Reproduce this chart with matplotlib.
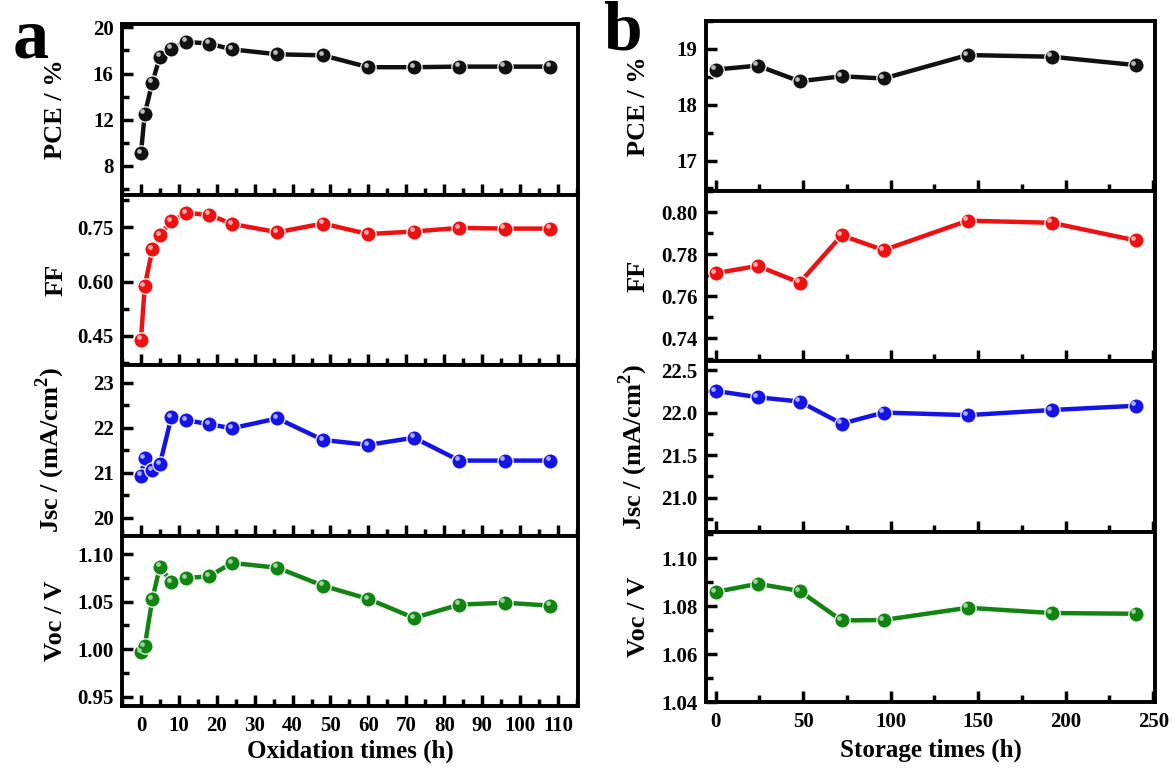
import numpy as np
import matplotlib.pyplot as plt
from matplotlib.ticker import MultipleLocator
from matplotlib.transforms import ScaledTranslation

plt.rcParams['font.family'] = ['Liberation Serif', 'DejaVu Serif']
plt.rcParams['font.weight'] = 'bold'
plt.rcParams['mathtext.fontset'] = 'custom'
plt.rcParams['mathtext.rm'] = 'Liberation Serif:bold'

# (a) oxidation time series
t_ox = [0, 1, 3, 5, 8, 12, 18, 24, 36, 48, 60, 72, 84, 96, 108]
pce_ox = [9.08, 12.5, 15.2, 17.47, 18.17, 18.75, 18.6, 18.1, 17.67, 17.58, 16.55, 16.55, 16.6, 16.6, 16.6]
ff_ox = [0.440, 0.588, 0.689, 0.727, 0.767, 0.789, 0.784, 0.759, 0.736, 0.760, 0.731, 0.738, 0.748, 0.746, 0.746]
jsc_ox = [20.93, 21.33, 21.06, 21.19, 22.23, 22.17, 22.08, 21.99, 22.21, 21.73, 21.62, 21.78, 21.27, 21.27, 21.27]
voc_ox = [0.997, 1.003, 1.053, 1.087, 1.071, 1.075, 1.077, 1.091, 1.086, 1.067, 1.053, 1.033, 1.047, 1.049, 1.046]

# (b) storage time series
t_st = [0, 24, 48, 72, 96, 144, 192, 240]
pce_st = [18.63, 18.70, 18.42, 18.51, 18.47, 18.89, 18.86, 18.71]
ff_st = [0.771, 0.7745, 0.7665, 0.789, 0.782, 0.796, 0.795, 0.7866]
jsc_st = [22.255, 22.18, 22.13, 21.87, 22.0, 21.97, 22.03, 22.08]
voc_st = [1.0859, 1.0893, 1.0863, 1.0740, 1.0742, 1.0793, 1.0771, 1.0768]

colors = ['#111111', '#ee1111', '#1414e6', '#128412']
lights = ['#bbbbbb', '#ffaaaa', '#aaaaff', '#9ad89a']
ylabels = ['PCE / %', 'FF', 'Jsc / (mA/cm$^2$)', 'Voc / V']

W, H = 1173, 769
fig = plt.figure(figsize=(W / 100, H / 100), dpi=100)


def stack(left, right, top, bottom):
    h = (bottom - top) / 4
    axes = []
    for i in range(4):
        y0 = 1 - (top + (i + 1) * h) / H
        ax = fig.add_axes([left / W, y0, (right - left) / W, h / H])
        axes.append(ax)
    return axes


def draw(ax, x, y, k):
    ax.plot(x, y, '-', color=colors[k], lw=3.2, zorder=2)
    ax.plot(x, y, 'o', ms=11, mfc=colors[k], mec='white', mew=0.9, zorder=3)
    hl = ax.transData + ScaledTranslation(-1.7 / 72, 1.7 / 72, fig.dpi_scale_trans)
    ax.plot(x, y, 'o', ms=3.4, mfc=lights[k], mec='none', transform=hl, zorder=4)


def style(ax, last):
    for s in ax.spines.values():
        s.set_linewidth(2.8)
    ax.tick_params(which='both', direction='in', top=False, right=False, width=2.5,
                   labelsize=15, pad=6)
    ax.tick_params(which='major', length=8)
    ax.tick_params(which='minor', length=5)
    ax.tick_params(axis='x', pad=7)
    if not last:
        ax.tick_params(axis='x', labelbottom=False)


# panel a
axa = stack(122, 578, 24, 706)
data_a = [pce_ox, ff_ox, jsc_ox, voc_ox]
ylims_a = [(5.5, 20.3), (0.37, 0.84), (19.6, 23.4), (0.94, 1.12)]
ymaj_a = [4, 0.15, 1, 0.05]
for k, ax in enumerate(axa):
    draw(ax, t_ox, data_a[k], k)
    ax.set_xlim(-5, 115.3)
    ax.set_ylim(*ylims_a[k])
    ax.xaxis.set_major_locator(MultipleLocator(10))
    ax.xaxis.set_minor_locator(MultipleLocator(5))
    ax.yaxis.set_major_locator(MultipleLocator(ymaj_a[k]))
    ax.yaxis.set_minor_locator(MultipleLocator(ymaj_a[k] / 2))
    style(ax, k == 3)
    ax.set_ylabel(ylabels[k], fontsize=19, fontweight='bold')
for ax in axa:
    ax.yaxis.set_label_coords(-0.12, 0.5)
axa[0].set_yticks([8, 12, 16, 20])
axa[1].set_yticks([0.45, 0.60, 0.75])
axa[1].yaxis.set_major_formatter(plt.FormatStrFormatter('%.2f'))
axa[2].set_yticks([20, 21, 22, 23])
axa[3].set_yticks([0.95, 1.00, 1.05, 1.10])
axa[3].yaxis.set_major_formatter(plt.FormatStrFormatter('%.2f'))
axa[3].set_xlabel('Oxidation times (h)', fontsize=18, fontweight='bold', labelpad=3)

# panel b
axb = stack(706, 1155, 21, 702)
data_b = [pce_st, ff_st, jsc_st, voc_st]
ylims_b = [(16.45, 19.5), (0.729, 0.81), (20.6, 22.6), (1.04, 1.111)]
ymaj_b = [1, 0.02, 0.5, 0.02]
fmt_b = ['%d', '%.2f', '%.1f', '%.2f']
for k, ax in enumerate(axb):
    draw(ax, t_st, data_b[k], k)
    ax.set_xlim(-5.5, 251)
    ax.set_ylim(*ylims_b[k])
    ax.xaxis.set_major_locator(MultipleLocator(50))
    ax.xaxis.set_minor_locator(MultipleLocator(25))
    ax.yaxis.set_major_locator(MultipleLocator(ymaj_b[k]))
    ax.yaxis.set_minor_locator(MultipleLocator(ymaj_b[k] / 2))
    ax.yaxis.set_major_formatter(plt.FormatStrFormatter(fmt_b[k]))
    style(ax, k == 3)
    ax.set_ylabel(ylabels[k], fontsize=19, fontweight='bold')
for ax in axb:
    ax.yaxis.set_label_coords(-0.125, 0.5)
axb[3].set_xlabel('Storage times (h)', fontsize=18, fontweight='bold', labelpad=5)

fig.text(31 / W, 1 - 40 / H, 'a', fontsize=52, fontweight='bold', ha='center', va='center')
fig.text(622 / W, 1 - 33 / H, 'b', fontsize=50, fontweight='bold', ha='center', va='center')

fig.savefig('out.png', dpi=100)
